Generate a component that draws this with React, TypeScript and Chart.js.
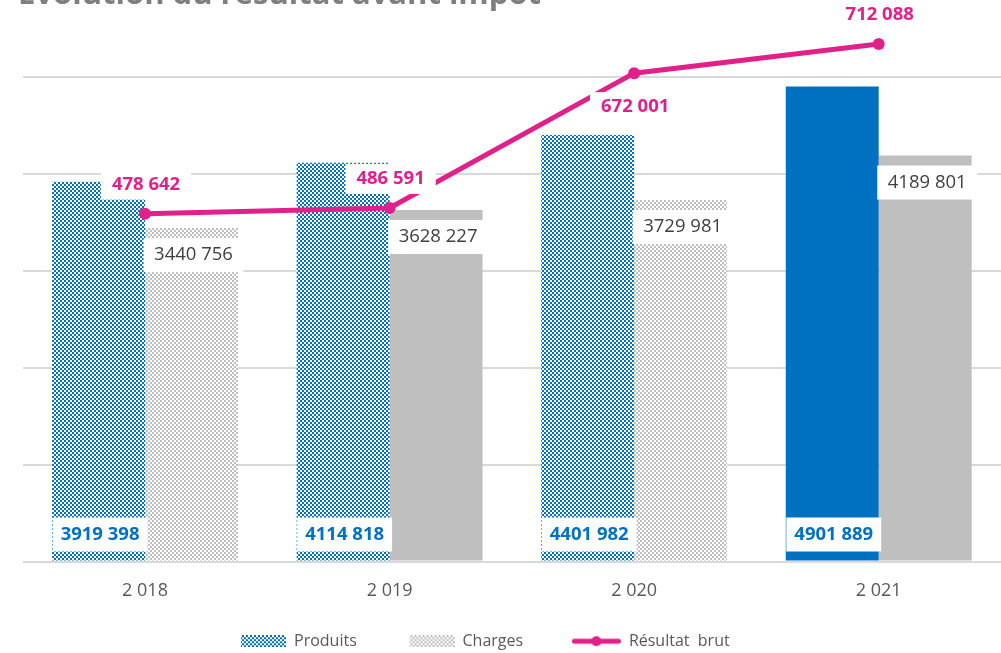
import React, { useEffect, useRef } from 'react';
import { Chart, registerables } from 'chart.js';

Chart.register(...registerables);

// ---- data ----
const CATEGORIES = ['2 018', '2 019', '2 020', '2 021'];
const PRODUITS = [3919398, 4114818, 4401982, 4901889];
const CHARGES = [3440756, 3628227, 3729981, 4189801];
const RESULTAT = [478642, 486591, 672001, 712088];
const Y_TICKS = [0, 1000000, 2000000, 3000000, 4000000, 5000000];
const Y_MAX = 5600000;
const Y2_MAX = 746667;
const PRODUITS_PATTERNED = [true, true, true, false];
const CHARGES_PATTERNED = [true, false, true, false];
const RESULTAT_LABEL_POS = ['above', 'above', 'below', 'above'];
const SERIES_NAMES = ['Produits', 'Charges', 'Résultat  brut'];
const TITLE = 'Évolution du résultat avant impôt';

// ---- style ----
const BLUE = '#0070C0';
const GRAY = '#BFBFBF';
const PINK = '#E0218A';
const TEXT_GRAY = '#595959';
const FONT = "'Open Sans', sans-serif";
const LEGEND_BOX_W = 84;
const LEGEND_X = 241;

function makeTile(color: string) {
  const c = document.createElement('canvas');
  c.width = 4;
  c.height = 4;
  const g = c.getContext('2d')!;
  g.fillStyle = '#ffffff';
  g.fillRect(0, 0, 4, 4);
  g.fillStyle = color;
  g.fillRect(0, 0, 2, 2);
  g.fillRect(2, 2, 2, 2);
  return c;
}

function legendPatternBox(tile: HTMLCanvasElement) {
  const c = document.createElement('canvas');
  c.width = LEGEND_BOX_W;
  c.height = 12;
  const g = c.getContext('2d')!;
  g.fillStyle = g.createPattern(tile, 'repeat')!;
  g.fillRect(LEGEND_BOX_W - 45, 0, 45, 12);
  return c;
}

function legendLine() {
  const c = document.createElement('canvas');
  c.width = LEGEND_BOX_W;
  c.height = 12;
  const g = c.getContext('2d')!;
  const x0 = LEGEND_BOX_W - 49;
  g.strokeStyle = PINK;
  g.lineWidth = 5;
  g.lineCap = 'round';
  g.beginPath();
  g.moveTo(x0 + 2.5, 6);
  g.lineTo(LEGEND_BOX_W - 2.5, 6);
  g.stroke();
  g.fillStyle = PINK;
  g.beginPath();
  g.arc(x0 + 24.5, 6, 5, 0, Math.PI * 2);
  g.fill();
  return c;
}

const fmt = (v: number) => `${Math.floor(v / 1000)} ${String(v % 1000).padStart(3, '0')}`;

const valueLabels = {
  id: 'valueLabels',
  afterDatasetsDraw(chart: any) {
    const ctx = chart.ctx;
    ctx.save();
    chart.data.datasets.forEach((ds: any, di: number) => {
      const meta = chart.getDatasetMeta(di);
      meta.data.forEach((el: any, i: number) => {
        const text = fmt(ds.data[i]);
        let cx: number, cy: number, font: string, color: string, padX: number, h: number;
        if (di === 0) {
          cx = el.x + 1.5; cy = el.base - 26; font = `bold 18.5px ${FONT}`; color = BLUE; padX = 8; h = 34;
        } else if (di === 1) {
          cx = el.x + 2; cy = el.y + 27; font = `18.5px ${FONT}`; color = '#404040'; padX = 10.5; h = 34;
        } else {
          cx = el.x + 1; cy = el.y + (RESULTAT_LABEL_POS[i] === 'below' ? 34 : -29);
          font = `bold 18.5px ${FONT}`; color = PINK; padX = 11; h = 30;
        }
        ctx.font = font;
        const w = ctx.measureText(text).width + 2 * padX;
        ctx.fillStyle = '#ffffff';
        ctx.fillRect(cx - w / 2, cy - h / 2, w, h);
        ctx.fillStyle = color;
        ctx.textAlign = 'center';
        ctx.textBaseline = 'middle';
        ctx.fillText(text, cx, cy);
      });
    });
    ctx.restore();
  },
};

const legendShift = {
  id: 'legendShift',
  afterLayout(chart: any) {
    const lg = chart.legend;
    if (!lg) return;
    const p = lg.options.labels.padding;
    lg.left = LEGEND_X - (LEGEND_BOX_W - 45) - p;
  },
};

export default function App() {
  const ref = useRef<HTMLCanvasElement>(null);
  useEffect(() => {
    const canvas = ref.current!;
    const ctx = canvas.getContext('2d')!;
    const blueTile = makeTile(BLUE);
    const grayTile = makeTile(GRAY);
    const bluePattern = ctx.createPattern(blueTile, 'repeat')!;
    const grayPattern = ctx.createPattern(grayTile, 'repeat')!;
    const legendImgs = [legendPatternBox(blueTile), legendPatternBox(grayTile), legendLine()];

    const chart = new Chart(canvas, {
      type: 'bar',
      data: {
        labels: CATEGORIES,
        datasets: [
          {
            label: SERIES_NAMES[0],
            data: PRODUITS,
            backgroundColor: PRODUITS_PATTERNED.map((p) => (p ? bluePattern : BLUE)) as any,
            borderWidth: 0,
            yAxisID: 'y',
            order: 1,
            categoryPercentage: 0.76,
            barPercentage: 1,
          },
          {
            label: SERIES_NAMES[1],
            data: CHARGES,
            backgroundColor: CHARGES_PATTERNED.map((p) => (p ? grayPattern : GRAY)) as any,
            borderWidth: 0,
            yAxisID: 'y',
            order: 1,
            categoryPercentage: 0.76,
            barPercentage: 1,
          },
          {
            type: 'line',
            label: SERIES_NAMES[2],
            data: RESULTAT,
            yAxisID: 'y2',
            borderColor: PINK,
            backgroundColor: PINK,
            borderWidth: 5,
            pointRadius: 6,
            pointBackgroundColor: PINK,
            pointBorderColor: PINK,
            pointBorderWidth: 0,
            tension: 0,
            order: 0,
          } as any,
        ],
      },
      options: {
        responsive: false,
        animation: false,
        devicePixelRatio: 1,
        layout: { autoPadding: false, padding: { left: 18, right: 0, top: 0, bottom: 0.75 } },
        scales: {
          x: {
            grid: { display: false, drawTicks: false },
            border: { display: false },
            ticks: { color: TEXT_GRAY, font: { size: 18, family: FONT }, padding: 18.2 },
          },
          y: {
            min: 0,
            max: Y_MAX,
            afterBuildTicks: (s: any) => {
              s.ticks = Y_TICKS.map((v) => ({ value: v }));
            },
            afterFit: (s: any) => {
              s.width = 4.75;
            },
            ticks: { display: false },
            grid: { color: '#D9D9D9', lineWidth: 2, drawTicks: false },
            border: { display: false },
          },
          y2: {
            display: false,
            position: 'right',
            min: 0,
            max: Y2_MAX,
            grid: { display: false },
          },
        },
        plugins: {
          title: {
            display: true,
            text: TITLE,
            align: 'start',
            color: '#7F7F7F',
            font: { family: FONT, size: 31, weight: 'bold' },
            padding: { top: 17, bottom: 4.7 },
          },
          legend: {
            position: 'bottom',
            align: 'start',
            labels: {
              usePointStyle: true,
              pointStyleWidth: LEGEND_BOX_W,
              padding: 13.75,
              color: TEXT_GRAY,
              font: { family: FONT, size: 16 },
              generateLabels: () =>
                SERIES_NAMES.map((name, i) => ({
                  text: name,
                  pointStyle: legendImgs[i] as any,
                  fillStyle: 'rgba(0,0,0,0)',
                  strokeStyle: 'rgba(0,0,0,0)',
                  lineWidth: 0,
                  hidden: false,
                  datasetIndex: i,
                  fontColor: TEXT_GRAY,
                })) as any,
            },
          },
          tooltip: { enabled: false },
        },
      },
      plugins: [valueLabels, legendShift],
    });
    return () => chart.destroy();
  }, []);

  return (
    <div style={{ position: 'fixed', left: 0, top: 0, width: 1001, height: 653, overflow: 'hidden', background: '#fff' }}>
      <div style={{ position: 'absolute', left: 0, top: -40, width: 1001, height: 700 }}>
        <canvas ref={ref} width={1001} height={700} style={{ display: 'block' }} />
      </div>
    </div>
  );
}
